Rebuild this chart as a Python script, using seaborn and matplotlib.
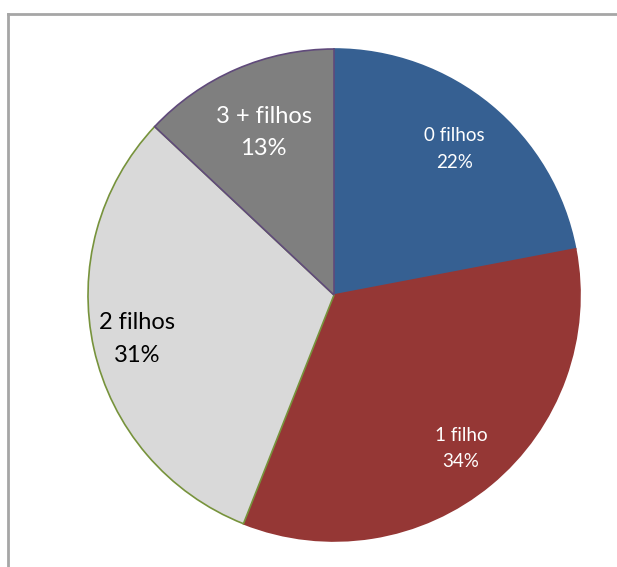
import matplotlib
matplotlib.use("Agg")
import matplotlib.pyplot as plt
import numpy as np
import seaborn as sns

# data
categories = ["0 filhos", "1 filho", "2 filhos", "3 + filhos"]
shares = [22, 34, 31, 13]

# style
colors = ["#366092", "#953735", "#D9D9D9", "#7F7F7F"]
edge_colors = ["#366092", "#953735", "#77933C", "#604A7B"]
text_colors = ["white", "white", "black", "white"]
font_sizes = [13.5, 13.5, 17, 17]
label_r = [0.77, 0.81, 0.82, 0.72]

sns.set_theme(style="white")
plt.rcParams["font.family"] = ["Lato", "DejaVu Sans"]

W, H = 617, 567
fig = plt.figure(figsize=(W / 100, H / 100), dpi=100)

# outer frame (Excel chart area border)
frame = fig.add_axes([8 / W, 0, 1, 1 - 14 / H])
frame.set_xticks([])
frame.set_yticks([])
for side in ["right", "bottom"]:
    frame.spines[side].set_visible(False)
for side in ["left", "top"]:
    frame.spines[side].set_color("#A6A6A6")
    frame.spines[side].set_linewidth(2)

cx, cy, r = 334, 295, 246
ax = fig.add_axes([(cx - r) / W, (H - cy - r) / H, 2 * r / W, 2 * r / H])
wedges, _ = ax.pie(shares, colors=colors, startangle=90, counterclock=False,
                   radius=1, wedgeprops=dict(linewidth=1.2))
for w, ec in zip(wedges, edge_colors):
    w.set_edgecolor(ec)

for w, cat, val, tc, fs, lr in zip(wedges, categories, shares, text_colors, font_sizes, label_r):
    mid = np.deg2rad((w.theta1 + w.theta2) / 2)
    ax.text(lr * np.cos(mid), lr * np.sin(mid), f"{cat}\n{val}%",
            ha="center", va="center", color=tc, fontsize=fs, linespacing=1.65)

ax.set_xlim(-1, 1)
ax.set_ylim(-1, 1)
ax.set_aspect("auto")
ax.axis("off")

fig.savefig("out.png", dpi=100, facecolor="white")
